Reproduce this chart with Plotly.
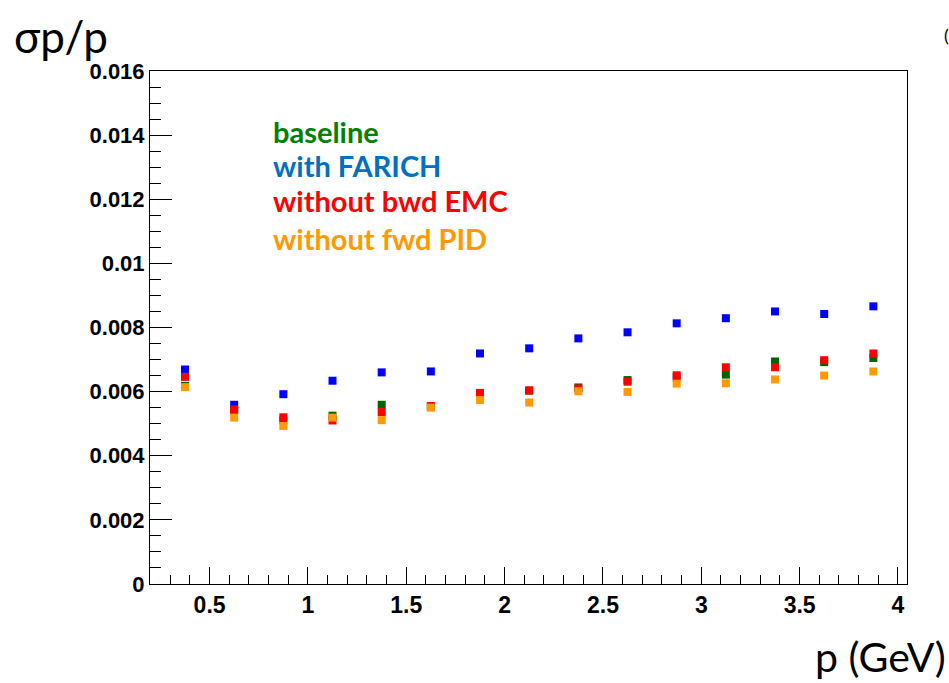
import plotly.graph_objects as go

# Momentum bin centres (GeV)
p_gev = [0.375, 0.625, 0.875, 1.125, 1.375, 1.625, 1.875, 2.125,
         2.375, 2.625, 2.875, 3.125, 3.375, 3.625, 3.875]

# Relative momentum resolution sigma_p / p for each detector configuration
baseline = [0.00618, 0.00542, 0.00510, 0.00525, 0.00559, 0.00553, 0.00590, 0.00603,
            0.00613, 0.00636, 0.00645, 0.00653, 0.00694, 0.00692, 0.00705]
with_farich = [0.00669, 0.00559, 0.00592, 0.00634, 0.00660, 0.00663, 0.00719, 0.00735,
               0.00766, 0.00785, 0.00813, 0.00829, 0.00850, 0.00842, 0.00866]
without_bwd_emc = [0.00646, 0.00544, 0.00520, 0.00510, 0.00536, 0.00555, 0.00596, 0.00604,
                   0.00610, 0.00631, 0.00651, 0.00676, 0.00676, 0.00698, 0.00719]
without_fwd_pid = [0.00614, 0.00519, 0.00493, 0.00519, 0.00511, 0.00550, 0.00574, 0.00566,
                   0.00601, 0.00599, 0.00625, 0.00626, 0.00638, 0.00650, 0.00663]

series_names = ["baseline", "with FARICH", "without bwd EMC", "without fwd PID"]
marker_colors = ["#006400", "#0000ff", "#ff0000", "#ff9900"]
label_colors = ["#008000", "#0070c0", "#ff0000", "#ff9900"]

x_tick_vals = [0.5, 1, 1.5, 2, 2.5, 3, 3.5, 4]
x_tick_text = ["0.5", "1", "1.5", "2", "2.5", "3", "3.5", "4"]
y_tick_vals = [0, 0.002, 0.004, 0.006, 0.008, 0.01, 0.012, 0.014, 0.016]
y_tick_text = ["0", "0.002", "0.004", "0.006", "0.008", "0.01", "0.012", "0.014", "0.016"]

# Plot frame in pixels, used to place free text in paper coordinates
W, H = 949, 683
L, R, T, B = 150, 42, 71, 99
pw, ph = W - L - R, H - T - B


def px_to_paper(px, py):
    return (px - L) / pw, (H - B - py) / ph


fig = go.Figure()
for name, ys, col in zip(series_names,
                         [baseline, with_farich, without_bwd_emc, without_fwd_pid],
                         marker_colors):
    fig.add_trace(go.Scatter(
        x=p_gev, y=ys, mode="markers", name=name,
        marker=dict(symbol="square", size=8, color=col, line=dict(width=0)),
        showlegend=False,
    ))

# Coloured text legend inside the frame
legend_y = [0.0141, 0.01305, 0.01195, 0.01077]
for name, col, yy in zip(series_names, label_colors, legend_y):
    fig.add_annotation(
        x=0.81, y=yy, xref="x", yref="y", text=f"<b>{name}</b>",
        showarrow=False, xanchor="left", yanchor="middle",
        font=dict(family="Lato", size=29, color=col),
    )

# Axis titles placed as free text
tx, ty = px_to_paper(12, 8)
fig.add_annotation(x=tx, y=ty, xref="paper", yref="paper",
                   text="σp/p", showarrow=False, xanchor="left", yanchor="top",
                   font=dict(family="Lato", size=44, color="black"))
tx, ty = px_to_paper(948, 683)
fig.add_annotation(x=tx, y=ty, xref="paper", yref="paper",
                   text="p (GeV)", showarrow=False, xanchor="right", yanchor="bottom",
                   font=dict(family="Lato", size=41, color="black"))
tx, ty = px_to_paper(942, 22)
fig.add_annotation(x=tx, y=ty, xref="paper", yref="paper",
                   text="(", showarrow=False, xanchor="left", yanchor="top",
                   font=dict(family="Lato", size=18, color="black"))

fig.update_xaxes(
    range=[0.197, 4.046], showgrid=False, zeroline=False,
    showline=True, linecolor="black", linewidth=1, mirror=True,
    ticks="inside", ticklen=17, tickwidth=1, tickcolor="black",
    tickvals=x_tick_vals, ticktext=x_tick_text,
    tickfont=dict(family="Liberation Sans", size=23, color="black", weight="bold"),
    minor=dict(dtick=0.1, tick0=0, ticks="inside", ticklen=9, tickcolor="black"),
)
fig.update_yaxes(
    range=[0, 0.016], showgrid=False, zeroline=False,
    showline=True, linecolor="black", linewidth=1, mirror=True,
    ticks="inside", ticklen=22, tickwidth=1, tickcolor="black",
    tickvals=y_tick_vals, ticktext=y_tick_text,
    tickfont=dict(family="Liberation Sans", size=22, color="black", weight="bold"),
    minor=dict(dtick=0.0005, tick0=0, ticks="inside", ticklen=11, tickcolor="black"),
)

fig.update_layout(
    width=W, height=H,
    margin=dict(l=L, r=R, t=T, b=B),
    paper_bgcolor="white", plot_bgcolor="white",
)

fig.write_html("out.html")
